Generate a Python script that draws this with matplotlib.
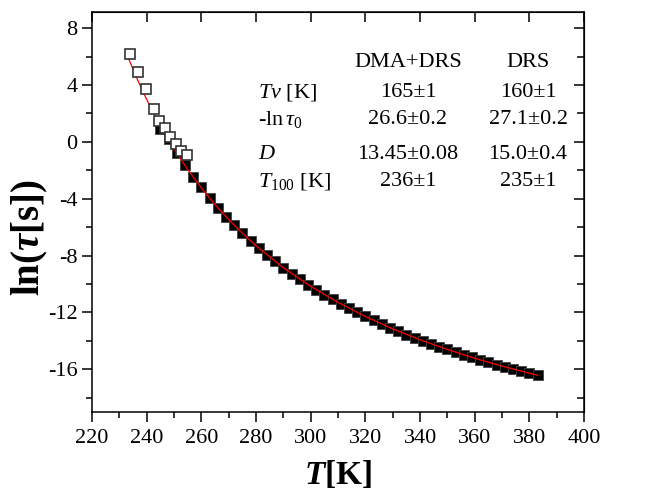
"""ln(tau) vs T with VFT fit (DMA+DRS)."""

import matplotlib
matplotlib.use("Agg")
import matplotlib.pyplot as plt
from matplotlib.ticker import MultipleLocator

plt.rcParams["font.family"] = ["Liberation Serif", "DejaVu Serif"]
plt.rcParams["mathtext.fontset"] = "custom"
plt.rcParams["mathtext.rm"] = "Liberation Serif"
plt.rcParams["mathtext.it"] = "Liberation Serif:italic"
plt.rcParams["mathtext.bf"] = "Liberation Serif:bold"
plt.rcParams["mathtext.bfit"] = "Liberation Serif:bold:italic"
plt.rcParams["axes.unicode_minus"] = False

# open squares (low temperature data)
T_open = [233.9, 236.8, 239.7, 242.8, 244.5, 246.6, 248.7, 250.6, 252.5, 254.7]
lnt_open = [6.2, 4.9, 3.7, 2.35, 1.5, 1.0, 0.35, -0.15, -0.65, -0.9]

# filled squares (DRS)
T_full = [245, 248, 251, 254, 257, 260, 263, 266, 269, 272, 275, 278, 281, 284,
          287, 290, 293, 296, 299, 302, 305, 308, 311, 314, 317, 320, 323, 326,
          329, 332, 335, 338, 341, 344, 347, 350, 353, 356, 359, 362, 365, 368,
          371, 374, 377, 380, 383]
lnt_full = [0.9, 0.2, -0.75, -1.6, -2.45, -3.2, -3.95, -4.63, -5.26, -5.86,
            -6.42, -6.96, -7.47, -7.95, -8.41, -8.85, -9.26, -9.66, -10.04,
            -10.40, -10.75, -11.08, -11.40, -11.65, -12.00, -12.28, -12.55,
            -12.82, -13.07, -13.31, -13.55, -13.77, -13.99, -14.20, -14.41,
            -14.60, -14.80, -14.98, -15.16, -15.33, -15.50, -15.67, -15.83,
            -15.98, -16.13, -16.28, -16.38]

# fitted curve
T_fit = [233, 236, 239, 242, 245, 248, 251, 255, 260, 265, 270, 275, 280, 290,
         300, 310, 320, 330, 340, 350, 360, 370, 383]
lnt_fit = [6.04, 4.66, 3.39, 2.22, 1.14, 0.14, -0.80, -1.94, -3.24, -4.41,
           -5.46, -6.42, -7.30, -8.85, -10.16, -11.29, -12.28, -13.15, -13.92,
           -14.60, -15.22, -15.77, -16.42]

# parameter table
col_heads = ["DMA+DRS", "DRS"]
row_names = [r"$Tv$ [K]", r"-ln$\,\tau_{\mathit{0}}$", r"$D$", r"$T_{\mathit{100}}$ [K]"]
vals_dma = ["165\u00b11", "26.6\u00b10.2", "13.45\u00b10.08", "236\u00b11"]
vals_drs = ["160\u00b11", "27.1\u00b10.2", "15.0\u00b10.4", "235\u00b11"]
row_y = [3.45, 1.6, -0.85, -2.8]

fig = plt.figure(figsize=(6.45, 4.94), dpi=100)
ax = fig.add_axes([0.1426, 0.166, 0.763, 0.81])

ax.plot(T_full, lnt_full, "s", color="black", mec="#444444", mew=0.6, ms=6.5, zorder=1)
ax.plot(T_fit, lnt_fit, "-", color="red", lw=0.9, zorder=2)
ax.plot(T_open, lnt_open, "s", mfc="white", mec="#333333", mew=1.2, ms=6.5, zorder=3)

ax.set_xlim(220, 400)
ax.set_ylim(-19, 9.15)
ax.xaxis.set_major_locator(MultipleLocator(20))
ax.xaxis.set_minor_locator(MultipleLocator(10))
ax.yaxis.set_major_locator(MultipleLocator(4))
ax.yaxis.set_minor_locator(MultipleLocator(2))
ax.tick_params(which="both", direction="out", top=False, right=False, labelsize=16, width=1.1)
ax.tick_params(which="major", length=7)
ax.tick_params(which="minor", length=4)
ax.tick_params(axis="x", which="major", pad=5)
for s in ax.spines.values():
    s.set_linewidth(1.1)

# inward mirrored ticks on top/right
sec_x = ax.secondary_xaxis("top")
sec_x.xaxis.set_major_locator(MultipleLocator(20))
sec_x.tick_params(which="both", direction="in", labeltop=False, width=1.1, length=7)
sec_y = ax.secondary_yaxis("right")
sec_y.yaxis.set_major_locator(MultipleLocator(4))
sec_y.yaxis.set_minor_locator(MultipleLocator(2))
sec_y.tick_params(which="both", direction="in", labelright=False, width=1.1)
sec_y.tick_params(which="major", length=7)
sec_y.tick_params(which="minor", length=5)

ax.set_xlabel(r"$\mathbfit{T}\mathbf{[K]}$", fontsize=24, labelpad=8)
ax.set_ylabel(r"$\mathbf{ln(}\mathbfit{\tau}\mathbf{[s])}$", fontsize=28)
ax.yaxis.set_label_coords(-0.085, 0.435)

tr = ax.get_yaxis_transform()
ax.text(0.642, 5.6, col_heads[0], fontsize=16, ha="center", va="center", transform=tr)
ax.text(0.886, 5.6, col_heads[1], fontsize=16, ha="center", va="center", transform=tr)
for name, a, b, y in zip(row_names, vals_dma, vals_drs, row_y):
    ax.text(0.337, y, name, fontsize=16, ha="left", va="center", transform=tr)
    ax.text(0.642, y, a, fontsize=16, ha="center", va="center", transform=tr)
    ax.text(0.886, y, b, fontsize=16, ha="center", va="center", transform=tr)

fig.savefig("out.png", dpi=100)
